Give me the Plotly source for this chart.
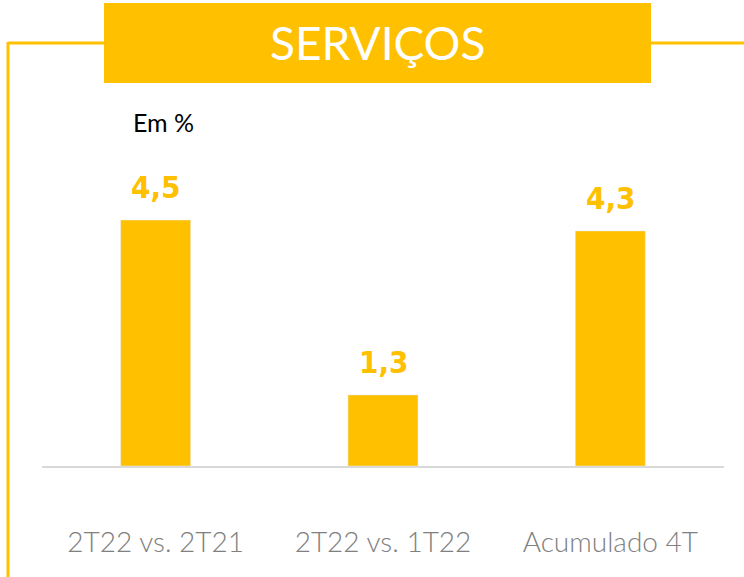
import plotly.graph_objects as go

categories = ["2T22 vs. 2T21", "2T22 vs. 1T22", "Acumulado 4T"]
values = [4.5, 1.3, 4.3]
value_labels = ["4,5", "1,3", "4,3"]

YELLOW = "#FFC000"
W, H = 744, 577
L, R, T, B = 42, 20, 100, 111
PW, PH = W - L - R, H - T - B

def px(x): return (x - L) / PW
def py(y): return (H - B - y) / PH

fig = go.Figure()
fig.add_trace(go.Bar(
    x=categories, y=values, marker_color=YELLOW, width=0.308,
    hoverinfo="skip", cliponaxis=False,
))

for c, v, t in zip(categories, values, value_labels):
    fig.add_annotation(x=c, y=v, text=t, showarrow=False, yanchor="bottom", yshift=13,
                       font=dict(family="DejaVu Sans Condensed, sans-serif",
                                 size=31, color=YELLOW, weight="bold"))

shapes = [
    dict(type="line", xref="paper", yref="paper", x0=px(8), x1=px(104), y0=py(43), y1=py(43),
         line=dict(color=YELLOW, width=3)),
    dict(type="line", xref="paper", yref="paper", x0=px(651), x1=px(746), y0=py(43), y1=py(43),
         line=dict(color=YELLOW, width=3)),
    dict(type="line", xref="paper", yref="paper", x0=px(8), x1=px(8), y0=py(42), y1=py(580),
         line=dict(color=YELLOW, width=3)),
    dict(type="rect", xref="paper", yref="paper", x0=px(104), x1=px(651), y0=py(83), y1=py(3),
         fillcolor=YELLOW, line=dict(width=0)),
]

fig.update_layout(
    width=W, height=H,
    margin=dict(l=L, r=R, t=T, b=B, autoexpand=False),
    paper_bgcolor="white", plot_bgcolor="white",
    showlegend=False,
    shapes=shapes,
)
fig.add_annotation(xref="paper", yref="paper", x=px(377), y=py(43), text="SERVIÇOS",
                   showarrow=False, xanchor="center", yanchor="middle",
                   font=dict(family="Lato", size=46, color="white"))
fig.add_annotation(xref="paper", yref="paper", x=px(131), y=py(122), text="Em %",
                   showarrow=False, xanchor="left", yanchor="middle",
                   font=dict(family="Lato", size=25, color="black"))

fig.update_xaxes(range=[-0.5, 2.5], showline=True, linecolor="#D9D9D9", linewidth=2,
                 ticks="", ticklabelstandoff=50, automargin=False,
                 tickfont=dict(family="Lato", size=28, color="#808080", weight=300))
fig.update_yaxes(range=[0, 6.695], visible=False, showgrid=False, zeroline=False, automargin=False)

fig.write_html("out.html", config={"displayModeBar": False},
               post_script="document.body.style.margin='0';document.body.style.padding='0';")
